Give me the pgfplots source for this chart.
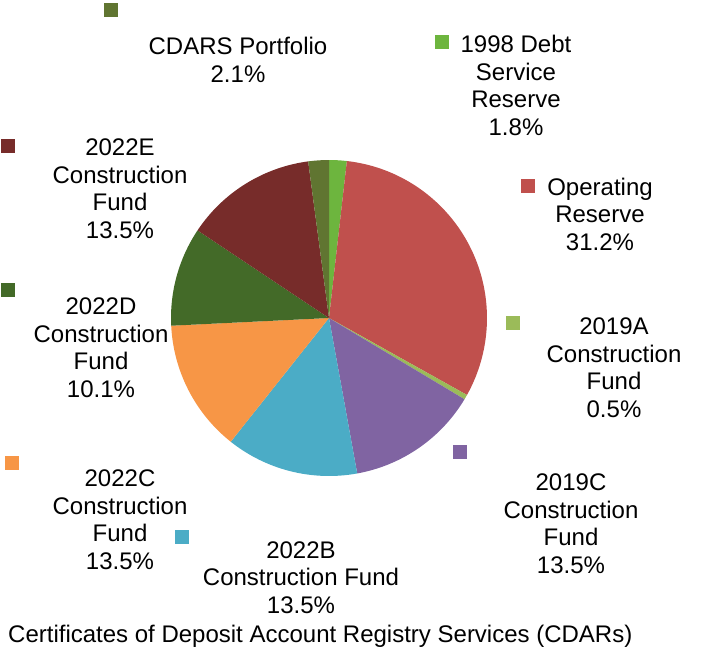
\documentclass[border=0pt]{standalone}
\usepackage{pgfplots}
\usepackage{pgfplotstable}
\pgfplotsset{compat=1.18}
\usepackage{fontspec}
\setmainfont{Liberation Sans}

\definecolor{c0}{RGB}{109,181,62}
\definecolor{c1}{RGB}{192,80,77}
\definecolor{c2}{RGB}{155,187,89}
\definecolor{c3}{RGB}{128,100,162}
\definecolor{c4}{RGB}{75,172,198}
\definecolor{c5}{RGB}{247,150,70}
\definecolor{c6}{RGB}{67,106,40}
\definecolor{c7}{RGB}{119,44,42}
\definecolor{c8}{RGB}{96,117,49}

\tikzset{lbl/.style={font=\fontsize{24}{27.7}\selectfont, align=center, inner sep=0pt, text=black}}

% share of each holding, in percent, clockwise from 12 o'clock
\pgfplotstableread{
idx value
0 1.8
1 31.2
2 0.5
3 13.5
4 13.5
5 13.5
6 10.1
7 13.5
8 2.1
}\piedata

\begin{document}
\begin{tikzpicture}
\pgfmathsetmacro\tot{0}
\pgfplotsforeachungrouped \i in {0,...,8}{%
  \pgfplotstablegetelem{\i}{value}\of\piedata
  \pgfmathsetmacro\tot{\tot+\pgfplotsretval}%
}
\pgfmathsetmacro\cur{90}
\expandafter\xdef\csname pa0\endcsname{\cur}
\pgfplotsforeachungrouped \i in {0,...,8}{%
  \pgfplotstablegetelem{\i}{value}\of\piedata
  \pgfmathsetmacro\cur{\cur-360*\pgfplotsretval/\tot}%
  \pgfmathtruncatemacro\j{\i+1}%
  \expandafter\xdef\csname pa\j\endcsname{\cur}%
}
\begin{axis}[
  x=1pt, y=1pt,
  xmin=0, xmax=702, ymin=0, ymax=651,
  y dir=reverse,
  hide axis, clip=false,
]
\pgfplotsinvokeforeach{0,...,8}{%
  \pgfmathtruncatemacro\nx{#1+1}%
  \edef\temp{\noexpand\fill[c#1] (axis cs:329,318) -- ++(\csname pa#1\endcsname:158pt) arc[start angle=\csname pa#1\endcsname, end angle=\csname pa\nx\endcsname, radius=158pt] -- cycle;}%
  \temp
}
% legend-style markers
\addplot[only marks, mark=square*, mark size=6.5pt, c8, mark options={draw=c8, fill=c8, line width=0pt}] coordinates {(111,10)};
\addplot[only marks, mark=square*, mark size=6.5pt, c0, mark options={draw=c0, fill=c0, line width=0pt}] coordinates {(442,42)};
\addplot[only marks, mark=square*, mark size=6.5pt, c1, mark options={draw=c1, fill=c1, line width=0pt}] coordinates {(528,186)};
\addplot[only marks, mark=square*, mark size=6.5pt, c2, mark options={draw=c2, fill=c2, line width=0pt}] coordinates {(513,323)};
\addplot[only marks, mark=square*, mark size=6.5pt, c3, mark options={draw=c3, fill=c3, line width=0pt}] coordinates {(460,452)};
\addplot[only marks, mark=square*, mark size=6.5pt, c4, mark options={draw=c4, fill=c4, line width=0pt}] coordinates {(182,537)};
\addplot[only marks, mark=square*, mark size=6.5pt, c5, mark options={draw=c5, fill=c5, line width=0pt}] coordinates {(12,463)};
\addplot[only marks, mark=square*, mark size=6.5pt, c6, mark options={draw=c6, fill=c6, line width=0pt}] coordinates {(8,290)};
\addplot[only marks, mark=square*, mark size=6.5pt, c7, mark options={draw=c7, fill=c7, line width=0pt}] coordinates {(8,146)};
% labels (anchored at the baseline of their last line)
\node[lbl, anchor=base] at (axis cs:238,82.5) {CDARS Portfolio\\2.1\%};
\node[lbl, anchor=base] at (axis cs:516,135.5) {1998 Debt\\Service\\Reserve\\1.8\%};
\node[lbl, anchor=base] at (axis cs:600,250.5) {Operating\\Reserve\\31.2\%};
\node[lbl, anchor=base] at (axis cs:614,417.5) {2019A\\Construction\\Fund\\0.5\%};
\node[lbl, anchor=base] at (axis cs:571,573.5) {2019C\\Construction\\Fund\\13.5\%};
\node[lbl, anchor=base] at (axis cs:301,613.5) {2022B\\Construction Fund\\13.5\%};
\node[lbl, anchor=base] at (axis cs:120,569.5) {2022C\\Construction\\Fund\\13.5\%};
\node[lbl, anchor=base] at (axis cs:101,397.5) {2022D\\Construction\\Fund\\10.1\%};
\node[lbl, anchor=base] at (axis cs:120,238.5) {2022E\\Construction\\Fund\\13.5\%};
\node[lbl, anchor=base west] at (axis cs:8,642.5) {Certificates of Deposit Account Registry Services (CDARs)};
\end{axis}
\pgfresetboundingbox
\path (0,0) rectangle (702pt,651pt);
\end{tikzpicture}
\end{document}
